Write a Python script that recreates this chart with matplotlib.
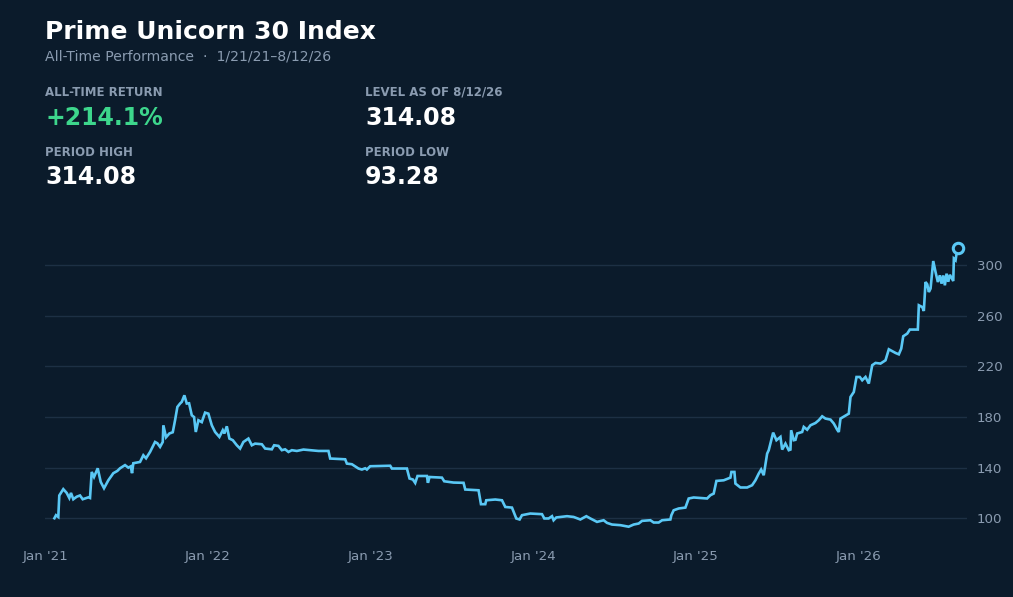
import matplotlib
matplotlib.use("Agg")
import matplotlib.pyplot as plt
import matplotlib.dates as mdates
import pandas as pd

# index level, time as decimal years
years = [
    2021.0548, 2021.0646, 2021.0788, 2021.0849, 2021.1095, 2021.1305, 2021.1465, 2021.1569,
    2021.1711, 2021.1920, 2021.2123, 2021.2289, 2021.2634, 2021.2738, 2021.2843, 2021.2985,
    2021.3212, 2021.3397, 2021.3600, 2021.3865, 2021.4172, 2021.4418, 2021.4585, 2021.4892,
    2021.5095, 2021.5243, 2021.5323, 2021.5403, 2021.5815, 2021.6018, 2021.6185, 2021.6431,
    2021.6738, 2021.6880, 2021.7046, 2021.7212, 2021.7249, 2021.7415, 2021.7618, 2021.7828,
    2021.7969, 2021.8111, 2021.8277, 2021.8382, 2021.8542, 2021.8689, 2021.8831, 2021.8997,
    2021.9138, 2021.9243, 2021.9403, 2021.9612, 2021.9815, 2022.0018, 2022.0228, 2022.0431,
    2022.0695, 2022.0905, 2022.1003, 2022.1151, 2022.1311, 2022.1520, 2022.1766, 2022.1969,
    2022.2172, 2022.2480, 2022.2689, 2022.2892, 2022.3305, 2022.3508, 2022.3920, 2022.4062,
    2022.4326, 2022.4535, 2022.4738, 2022.4942, 2022.5151, 2022.5458, 2022.5865, 2022.6277,
    2022.6788, 2022.7403, 2022.7508, 2022.8431, 2022.8535, 2022.8843, 2022.9249, 2022.9458,
    2022.9662, 2022.9766, 2022.9969, 2023.1200, 2023.1305, 2023.2228, 2023.2388, 2023.2597,
    2023.2738, 2023.2880, 2023.3458, 2023.3520, 2023.3618, 2023.4382, 2023.4523, 2023.5095,
    2023.5711, 2023.5815, 2023.6634, 2023.6782, 2023.7046, 2023.7108, 2023.7662, 2023.8074,
    2023.8277, 2023.8689, 2023.8954, 2023.9157, 2023.9305, 2023.9815, 2024.0535, 2024.0677,
    2024.0942, 2024.1151, 2024.1249, 2024.1415, 2024.2074, 2024.2480, 2024.2892, 2024.3262,
    2024.3508, 2024.3920, 2024.4326, 2024.4535, 2024.4843, 2024.5354, 2024.5865, 2024.6172,
    2024.6480, 2024.6689, 2024.7200, 2024.7403, 2024.7711, 2024.7920, 2024.8431, 2024.8492,
    2024.8634, 2024.8942, 2024.9354, 2024.9557, 2024.9865, 2025.0689, 2025.0892, 2025.1095,
    2025.1262, 2025.1711, 2025.2123, 2025.2185, 2025.2369, 2025.2431, 2025.2738, 2025.3151,
    2025.3458, 2025.3662, 2025.3865, 2025.4012, 2025.4172, 2025.4382, 2025.4480, 2025.4751,
    2025.4954, 2025.5200, 2025.5305, 2025.5508, 2025.5711, 2025.5815, 2025.5858, 2025.6018,
    2025.6123, 2025.6228, 2025.6535, 2025.6634, 2025.6843, 2025.7046, 2025.7354, 2025.7557,
    2025.7766, 2025.7969, 2025.8277, 2025.8480, 2025.8689, 2025.8788, 2025.8892, 2025.9403,
    2025.9508, 2025.9711, 2025.9877, 2026.0080, 2026.0228, 2026.0431, 2026.0634, 2026.0843,
    2026.1046, 2026.1354, 2026.1662, 2026.1865, 2026.2277, 2026.2480, 2026.2628, 2026.2751,
    2026.2997, 2026.3157, 2026.3649, 2026.3711, 2026.3920, 2026.4018, 2026.4123, 2026.4228,
    2026.4326, 2026.4431, 2026.4597, 2026.4738, 2026.4880, 2026.5003, 2026.5108, 2026.5212,
    2026.5311, 2026.5415, 2026.5520, 2026.5618, 2026.5828, 2026.5865, 2026.5969, 2026.6031,
    2026.6110,
]
levels = [
    100.0, 102.4, 101.0, 118.0, 123.0, 120.0, 116.0, 120.0,
    115.0, 117.0, 118.0, 115.0, 116.5, 116.0, 136.6, 132.6,
    139.5, 128.7, 123.7, 130.0, 135.6, 137.4, 139.5, 142.0,
    140.0, 141.0, 135.6, 143.5, 144.5, 149.8, 147.4, 152.4,
    160.3, 159.3, 156.4, 160.3, 173.5, 164.0, 167.0, 168.0,
    177.5, 188.0, 190.7, 192.0, 197.2, 190.7, 190.9, 181.4,
    180.0, 168.2, 177.5, 176.0, 183.5, 182.7, 173.5, 168.2,
    164.3, 169.6, 167.0, 172.7, 163.0, 161.7, 157.7, 155.1,
    160.3, 163.0, 157.7, 159.0, 158.5, 155.1, 154.5, 157.7,
    157.2, 153.8, 154.5, 152.4, 153.8, 153.2, 154.3, 153.8,
    153.2, 153.2, 147.2, 146.6, 143.2, 142.7, 139.3, 138.5,
    139.5, 138.5, 141.1, 141.5, 139.3, 139.3, 131.4, 130.6,
    127.9, 133.4, 133.4, 128.0, 132.6, 132.1, 129.2, 128.2,
    128.0, 122.7, 122.1, 111.1, 111.1, 114.2, 114.8, 114.2,
    108.9, 108.4, 99.8, 99.0, 102.4, 103.7, 103.2, 99.8,
    99.8, 101.6, 98.4, 100.6, 101.6, 101.0, 99.0, 101.6,
    99.8, 97.1, 98.4, 96.3, 95.0, 94.5, 93.28, 95.0,
    95.8, 97.9, 98.4, 96.6, 96.6, 98.4, 99.0, 102.4,
    106.3, 107.7, 108.4, 115.6, 116.4, 115.6, 118.2, 119.5,
    129.5, 130.0, 132.1, 136.6, 136.6, 127.4, 124.3, 124.3,
    126.1, 130.0, 135.3, 138.5, 134.0, 151.1, 153.8, 167.7,
    161.7, 164.3, 154.3, 159.0, 153.8, 154.3, 169.6, 161.7,
    162.0, 167.0, 168.2, 172.2, 170.0, 173.5, 175.3, 177.5,
    180.6, 178.8, 178.0, 174.9, 170.0, 168.2, 178.8, 182.7,
    195.9, 199.8, 211.7, 211.7, 209.1, 211.7, 206.5, 221.0,
    222.8, 222.3, 224.9, 233.6, 230.7, 229.6, 234.1, 243.9,
    246.0, 249.2, 249.2, 268.4, 267.0, 263.9, 286.8, 285.0,
    278.9, 281.6, 303.4, 294.7, 286.8, 292.1, 285.5, 292.0,
    284.2, 293.4, 287.0, 292.5, 287.6, 305.3, 304.0, 309.2,
    314.08,
]

title = "Prime Unicorn 30 Index"
subtitle = "All-Time Performance  \u00b7  1/21/21\u20138/12/26"
stat_labels = ["ALL-TIME RETURN", "LEVEL AS OF 8/12/26", "PERIOD HIGH", "PERIOD LOW"]
stat_values = ["+214.1%", "314.08", "314.08", "93.28"]
y_ticks = [100, 140, 180, 220, 260, 300]
x_ticks = ["2021-01-01", "2022-01-01", "2023-01-01", "2024-01-01", "2025-01-01", "2026-01-01"]

BG = "#0b1b2b"
LINE = "#5ac8f5"
GRID = "#1d3044"
MUTED = "#8a9bb0"
GREEN = "#3dd68c"

base = pd.Timestamp("2021-01-01")
dates = [base + pd.Timedelta(days=(y - 2021) * 365.25) for y in years]

fig = plt.figure(figsize=(10.13, 5.97), dpi=100, facecolor=BG)
ax = fig.add_axes([0.0449, 0.0896, 0.9097, 0.5168])
ax.set_facecolor(BG)

ax.plot(dates, levels, color=LINE, lw=1.9, solid_joinstyle="miter")
ax.plot(dates[-1], levels[-1], "o", ms=7.5, mfc=BG, mec=LINE, mew=2.2)

ax.set_xlim(base, pd.Timestamp("2026-09-02"))
ax.set_ylim(80, 324)
ax.set_yticks(y_ticks)
ax.set_xticks(pd.to_datetime(x_ticks))
ax.xaxis.set_major_formatter(mdates.DateFormatter("%b '%y"))
ax.yaxis.tick_right()
ax.grid(axis="y", color=GRID, lw=1)
ax.set_axisbelow(True)
ax.tick_params(length=0, colors=MUTED, labelsize=9.6)
ax.tick_params(axis="x", pad=4.5)
ax.tick_params(axis="y", pad=7)
for s in ax.spines.values():
    s.set_visible(False)

# header block
fig.text(45 / 1013, 1 - 32 / 597, title, color="white", fontsize=18,
         fontweight="bold", va="center")
fig.text(45 / 1013, 1 - 57 / 597, subtitle, color=MUTED, fontsize=10.1, va="center")

cols = [45, 365]
rows = [(92, 118), (152, 177)]
for i, (lab, val) in enumerate(zip(stat_labels, stat_values)):
    cx = cols[i % 2] / 1013
    ly, vy = rows[i // 2]
    fig.text(cx, 1 - ly / 597, lab, color=MUTED, fontsize=8.5,
             fontweight="bold", va="center")
    fig.text(cx, 1 - vy / 597, val, color=GREEN if i == 0 else "white",
             fontsize=17, fontweight="bold", va="center")

fig.savefig("out.png", dpi=100, facecolor=BG)
